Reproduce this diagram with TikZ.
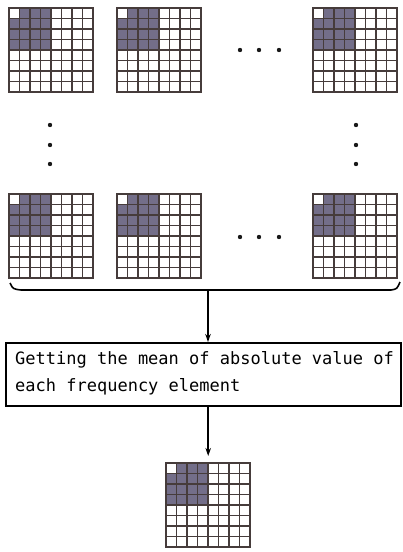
\documentclass[tikz,border=0pt]{standalone}
\usepackage{fontspec}
\newfontfamily\boxfont{DejaVu Sans Mono}
\usetikzlibrary{arrows.meta}
\definecolor{gridline}{HTML}{463C3B}
\definecolor{cellshade}{HTML}{736E89}
\tikzset{
  fgrid/.pic={
    \fill[cellshade] (0,0) rectangle (42,42);
    \fill[white] (0,0) rectangle (10.5,10.5);
    \foreach \i in {0,...,8} {
      \draw[gridline, line width=1.3pt] (\i*10.5,-0.6) -- (\i*10.5,84.6);
      \draw[gridline, line width=1.3pt] (-0.6,\i*10.5) -- (84.6,\i*10.5);
    }
  },
  dotmark/.style={fill=black!90},
  flowarrow/.style={line width=1.8pt, -{Stealth[length=8pt,width=5.5pt]}},
  textbox/.style={draw, line width=1.5pt, anchor=north west, minimum width=395pt, minimum height=63pt, inner sep=0pt}
}
\begin{document}
\begin{tikzpicture}[x=1pt,y=-1pt]
\useasboundingbox[fill=white] (0,0) rectangle (403,552);
% top row
\pic at (9,8) {fgrid};
\pic at (117,8) {fgrid};
\pic at (313,8) {fgrid};
% second row
\pic at (9,194) {fgrid};
\pic at (117,194) {fgrid};
\pic at (313,194) {fgrid};
% dots
\foreach \x in {240,259,279} { \fill[dotmark] (\x,50) circle (2.2); \fill[dotmark] (\x,237) circle (2.2); }
\foreach \y in {125,145,164} { \fill[dotmark] (50,\y) circle (2.2); \fill[dotmark] (356,\y) circle (2.2); }
% brace
\draw[line width=1.6pt] (10,283) .. controls (13,289) .. (21,290) -- (391,290) .. controls (397,289) .. (400,282);
\coordinate (bracetip) at (208,291);
% box
\node[textbox] (box) at (5,342) {};
\node[anchor=north west, align=left, inner sep=0pt, font=\boxfont\fontsize{17}{27}\selectfont] (boxtext) at (15,351) {Getting the mean of absolute value of\\each frequency element};
% bottom grid
\node[minimum width=84pt, minimum height=84pt, inner sep=0pt, anchor=north west] (g7) at (166,463) {};
\pic at (166,463) {fgrid};
% arrows
\draw[flowarrow] (bracetip) -- (bracetip |- box.north);
\draw[flowarrow, shorten >=7pt] (g7.north |- box.south) -- (g7.north);
\end{tikzpicture}
\end{document}
